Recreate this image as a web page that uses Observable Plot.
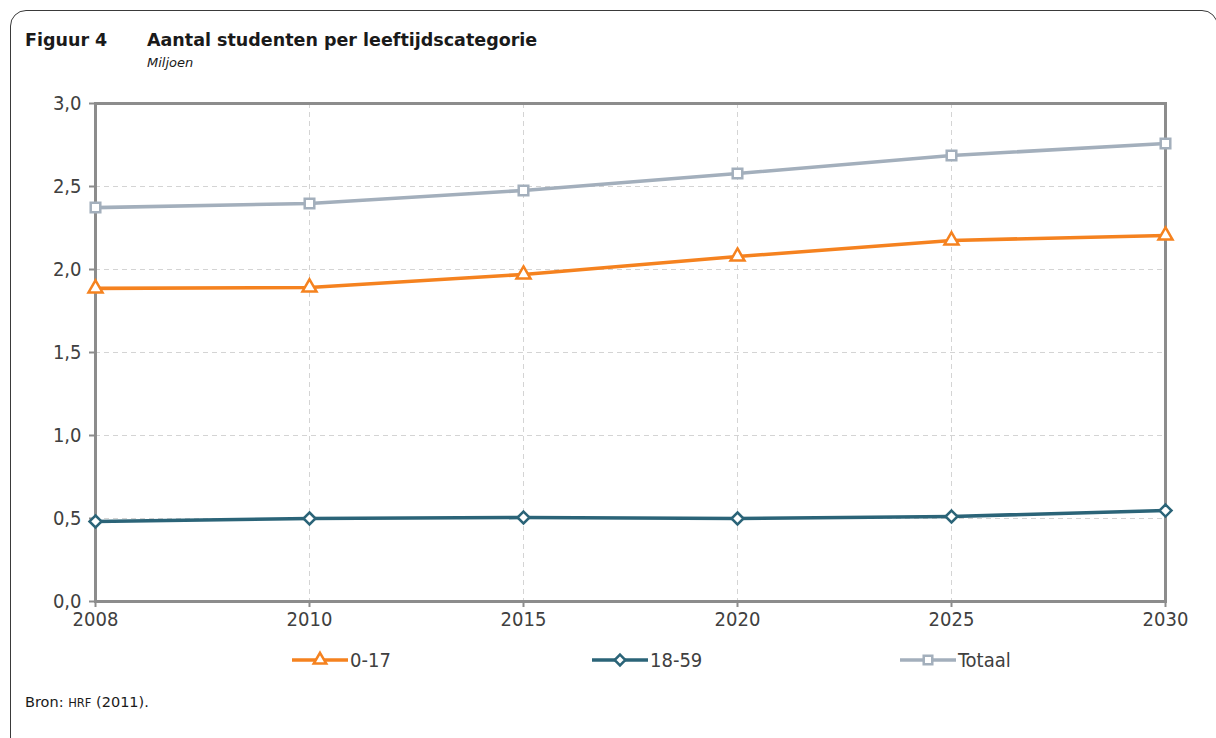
<!DOCTYPE html>
<html>
<head>
<meta charset="utf-8">
<script src="https://cdn.jsdelivr.net/npm/d3@7"></script>
<script src="https://cdn.jsdelivr.net/npm/@observablehq/plot@0.6"></script>
<style>
  html, body { margin: 0; padding: 0; background: #fff; width: 1216px; height: 738px; overflow: hidden; }
  #wrap { position: relative; width: 1216px; height: 738px; }
  #frame { position: absolute; left: 10px; top: 10px; width: 1208px; height: 760px; border: 1.5px solid #3a3a3a; border-radius: 16px; box-sizing: border-box; }
  .t { position: absolute; white-space: nowrap; color: #1a1a1a; font-family: "DejaVu Sans", sans-serif; }
  #fig { left: 25px; top: 30px; font-size: 17.5px; font-weight: bold; }
  #title { left: 147px; top: 30px; font-size: 17.5px; font-weight: bold; }
  #unit { left: 147px; top: 55px; font-size: 13px; font-style: italic; }
  #src { left: 25px; top: 694px; font-size: 14.5px; }
  #src .sc { font-size: 11.5px; }
  #chart { position: absolute; left: 0; top: 80px; }
  .leg { position: absolute; top: 648px; height: 24px; display: flex; align-items: center; font-family: "DejaVu Sans Condensed", "DejaVu Sans", sans-serif; font-size: 20px; color: #404040; }
  .leg svg { margin-right: 2px; }
</style>
</head>
<body>
<div id="wrap">
  <div id="frame"></div>
  <div class="t" id="fig">Figuur 4</div>
  <div class="t" id="title">Aantal studenten per leeftijdscategorie</div>
  <div class="t" id="unit">Miljoen</div>
  <div id="chart"></div>
  <div id="legend"></div>
  <div class="t" id="src">Bron: <span class="sc">HRF</span> (2011).</div>
</div>
<script>
const years = ["2008", "2010", "2015", "2020", "2025", "2030"];
const leeftijd0_17 = [1.886, 1.892, 1.970, 2.078, 2.175, 2.205];
const leeftijd18_59 = [0.482, 0.500, 0.506, 0.500, 0.512, 0.548];
const totaal = [2.373, 2.398, 2.476, 2.578, 2.687, 2.759];
const seriesNames = ["0-17", "18-59", "Totaal"];
const yTicks = [0, 0.5, 1.0, 1.5, 2.0, 2.5, 3.0];

const colors = {"0-17": "#f5821f", "18-59": "#2b6478", "Totaal": "#a3afbc"};
const symbols = {"0-17": "triangle", "18-59": "diamond2", "Totaal": "square"};
const radii = {"0-17": 5.2, "18-59": 5.4, "Totaal": 5.4};

const rows = [];
[leeftijd0_17, leeftijd18_59, totaal].forEach((vals, i) => {
  vals.forEach((v, j) => rows.push({series: seriesNames[i], year: years[j], value: v}));
});

const fmt = d => d.toFixed(1).replace(".", ",");
const font = '"DejaVu Sans Condensed", "DejaVu Sans", sans-serif';

const marks = [
  Plot.gridY(yTicks, {stroke: "#d4d4d4", strokeOpacity: 1, strokeDasharray: "5,4", strokeWidth: 1}),
  Plot.gridX(years, {stroke: "#d4d4d4", strokeOpacity: 1, strokeDasharray: "5,4", strokeWidth: 1}),
  Plot.axisY({ticks: yTicks, tickFormat: fmt, tickSize: 6, tickPadding: 8, stroke: "#8c8c8c", strokeWidth: 2, fill: "#404040", fontSize: 20, label: null}),
  Plot.axisX({tickSize: 6, tickPadding: 4, stroke: "#8c8c8c", strokeWidth: 2, fill: "#404040", fontSize: 20, label: null}),
  Plot.frame({stroke: "#8c8c8c", strokeWidth: 3})
];
for (const s of seriesNames) {
  const data = rows.filter(r => r.series === s);
  marks.push(Plot.line(data, {x: "year", y: "value", stroke: colors[s], strokeWidth: 3.6}));
  marks.push(Plot.dot(data, {x: "year", y: "value", symbol: symbols[s], r: radii[s], fill: "white", stroke: colors[s], strokeWidth: 2.5}));
}

const chart = Plot.plot({
  width: 1216,
  height: 561,
  marginLeft: 95,
  marginRight: 51,
  marginTop: 23,
  marginBottom: 40,
  style: {fontFamily: font, fontSize: "20px", color: "#404040", background: "transparent", overflow: "visible"},
  x: {type: "point", domain: years, padding: 0},
  y: {domain: [0, 3]},
  marks
});
document.getElementById("chart").appendChild(chart);

// legend
const legendPos = {"0-17": 292, "18-59": 592, "Totaal": 900};
const leg = document.getElementById("legend");
for (const s of seriesNames) {
  const item = document.createElement("div");
  item.className = "leg";
  item.style.left = legendPos[s] + "px";
  const sym = d3.symbol(s === "0-17" ? d3.symbolTriangle : s === "18-59" ? d3.symbolDiamond2 : d3.symbolSquare, Math.PI * radii[s] * radii[s] * 0.8)();
  item.innerHTML = `<svg width="56" height="24"><line x1="0" x2="56" y1="12" y2="12" stroke="${colors[s]}" stroke-width="3.6"/><path transform="translate(28,12)" d="${sym}" fill="white" stroke="${colors[s]}" stroke-width="2.5"/></svg><span>${s}</span>`;
  leg.appendChild(item);
}
</script>
</body>
</html>
